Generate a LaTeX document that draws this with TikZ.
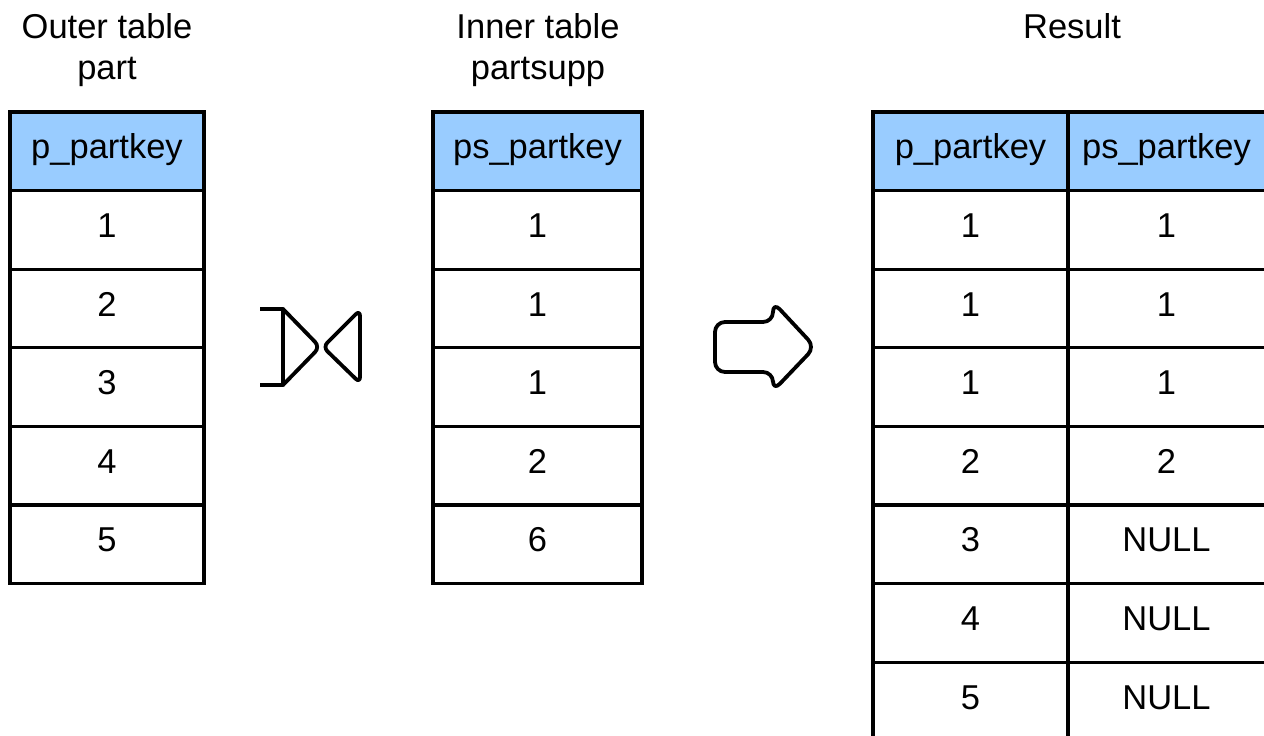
\documentclass[tikz,border=0pt]{standalone}
\usepackage{fontspec}
\setmainfont{Liberation Sans}
\definecolor{hdrblue}{HTML}{99CCFF}
\begin{document}
\begin{tikzpicture}[x=1pt,y=-1pt,
  cell/.style={draw=black,line width=3.2pt,rectangle,inner sep=0pt,minimum height=78.6pt,
    font=\fontsize{34.5}{40}\selectfont,text height=25pt,text depth=10pt,fill=white},
  hdr/.style={cell,fill=hdrblue},
  ttl/.style={font=\fontsize{34.5}{40}\selectfont,anchor=base,inner sep=0pt},
  sym/.style={draw=black,line width=3.8pt,line join=round,line cap=round}]
\useasboundingbox (0,0) rectangle (1264,736);
\fill[white] (0,0) rectangle (1264,736);
% titles
\node[ttl] (t1a) at (107,38) {Outer table};
\node[ttl] (t1b) at (107,79) {part};
\node[ttl] (t2a) at (538,38) {Inner table};
\node[ttl] (t2b) at (538,79) {partsupp};
\node[ttl] (t3a) at (1072,38) {Result};
% outer table
\node[hdr,minimum width=194pt] (o0) at (107,151.3) {p\_partkey};
\foreach \v [count=\i] in {1,2,3,4,5}
  \node[cell,minimum width=194pt] (o\i) at (107,151.3+78.6*\i) {\v};
% inner table
\node[hdr,minimum width=209pt] (n0) at (537.5,151.3) {ps\_partkey};
\foreach \v [count=\i] in {1,1,1,2,6}
  \node[cell,minimum width=209pt] (n\i) at (537.5,151.3+78.6*\i) {\v};
% result table (right border lies outside the picture)
\node[hdr,minimum width=195pt] (ra0) at (970.5,151.3) {p\_partkey};
\node[hdr,minimum width=202pt] (rb0) at (1169,151.3) {ps\_partkey\hspace*{5pt}};
\foreach \a/\b [count=\i] in {1/1,1/1,1/1,2/2,3/NULL,4/NULL,5/NULL}{
  \node[cell,minimum width=195pt] (ra\i) at (970.5,151.3+78.6*\i) {\a};
  \node[cell,minimum width=202pt] (rb\i) at (1169,151.3+78.6*\i) {\b\hspace*{5pt}};
}
% join symbol
\draw[sym,line cap=butt] (260,309) -- (283,309);
\draw[sym,line cap=butt] (260,385) -- (283,385);
\draw[sym,rounded corners=7pt] (283,309) -- (320,347) -- (283,385);
\draw[sym] (283,309) -- (283,385);
\draw[sym,rounded corners=6pt] (323,347) -- (360,310) -- (360,383) -- cycle;
% arrow
\draw[sym,rounded corners=10pt] (715,322) -- (773,322) -- (773,302) -- (815,347)
  -- (773,391) -- (773,372) -- (715,372) -- cycle;
\end{tikzpicture}
\end{document}
